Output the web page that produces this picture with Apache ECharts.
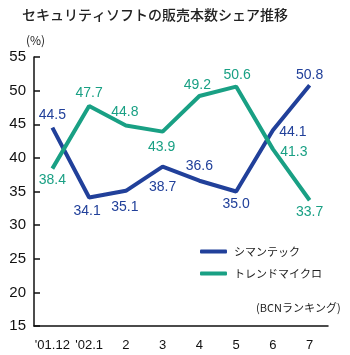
<!DOCTYPE html>
<html>
<head>
	<meta charset="UTF-8">
	<title></title>
	<script type="text/javascript" src="https://cdn.jsdelivr.net/npm/echarts@6/dist/echarts.min.js"></script>
	<style type="text/css">
		html,body{margin:0; padding:0; background:#fff;}
		#chart1{width:350px; height:355px;}
	</style>
</head>
<body>
	<div id="chart1"></div>
	<script type="text/javascript">
		// 月
		var months = ["'01.12", "'02.1", '2', '3', '4', '5', '6', '7'];
		var symantec = [44.5, 34.1, 35.1, 38.7, 36.6, 35.0, 44.1, 50.8];
		var trend = [38.4, 47.7, 44.8, 43.9, 49.2, 50.6, 41.3, 33.7];
		// ラベルのずらし量
		var symOffset = [[0,-12],[-2,14],[-1,16],[0,21],[0,-15],[0,13],[20,2],[0,-10]];
		var trendOffset = [[0,12],[0,-13],[-1,-13],[-1,15],[-2,-11],[1,-11],[21,3],[0,12]];

		var blue = '#21409a';
		var green = '#19a084';
		var numFont = 'Liberation Sans, Arial, sans-serif';
		var jpFont = '"Noto Sans CJK JP", sans-serif';

		function makeData(vals, offs){
			return vals.map(function(v, i){
				return {value: v, label: {offset: offs[i]}};
			});
		}

		var myChart = echarts.init(document.getElementById('chart1'));
		var option = {
			animation: false,
			title: {
				text: 'セキュリティソフトの販売本数シェア推移',
				left: 17, top: 3,
				textStyle: {fontFamily: jpFont, fontSize: 14, fontWeight: 500, color: '#222'}
			},
			legend: {
				orient: 'vertical',
				left: 195, top: 241,
				itemWidth: 27, itemHeight: 4, itemGap: 11,
				icon: 'roundRect',
				textStyle: {fontFamily: jpFont, fontSize: 11, color: '#222', padding: [0,0,0,2]},
				data: ['シマンテック', 'トレンドマイクロ']
			},
			graphic: [
				{type: 'text', left: 26, top: 34, style: {text: '(%)', font: '12px ' + jpFont, fill: '#222'}},
				{type: 'text', left: 256, top: 302, style: {text: '(BCNランキング)', font: '11px ' + jpFont, fill: '#222'}}
			],
			grid: {left: 34, right: 22, top: 57, bottom: 29},
			xAxis: {
				type: 'category',
				data: months,
				boundaryGap: true,
				axisLine: {lineStyle: {color: '#111', width: 1.5}},
				axisTick: {inside: true, length: 6, interval: 0, lineStyle: {color: '#111', width: 1.5}},
				axisLabel: {interval: 0, margin: 13, fontFamily: numFont, fontSize: 13, color: '#111'}
			},
			yAxis: {
				type: 'value',
				min: 15, max: 55, interval: 5,
				splitLine: {show: false},
				axisLine: {show: true, lineStyle: {color: '#111', width: 1.5}},
				axisTick: {show: true, inside: true, length: 6, lineStyle: {color: '#111', width: 1.5}},
				axisLabel: {margin: 8, fontFamily: numFont, fontSize: 15, color: '#111'}
			},
			series: [
				{
					name: 'シマンテック',
					type: 'line',
					data: makeData(symantec, symOffset),
					symbol: 'circle', symbolSize: 0.1,
					lineStyle: {color: blue, width: 4},
					itemStyle: {color: blue},
					label: {show: true, position: 'inside', fontFamily: numFont, fontSize: 14, color: blue,
						formatter: function(p){ return p.value.toFixed(1); }}
				},
				{
					name: 'トレンドマイクロ',
					type: 'line',
					data: makeData(trend, trendOffset),
					symbol: 'circle', symbolSize: 0.1,
					lineStyle: {color: green, width: 4},
					itemStyle: {color: green},
					label: {show: true, position: 'inside', fontFamily: numFont, fontSize: 14, color: green,
						formatter: function(p){ return p.value.toFixed(1); }}
				}
			]
		};
		myChart.setOption(option);
	</script>
</body>
</html>
